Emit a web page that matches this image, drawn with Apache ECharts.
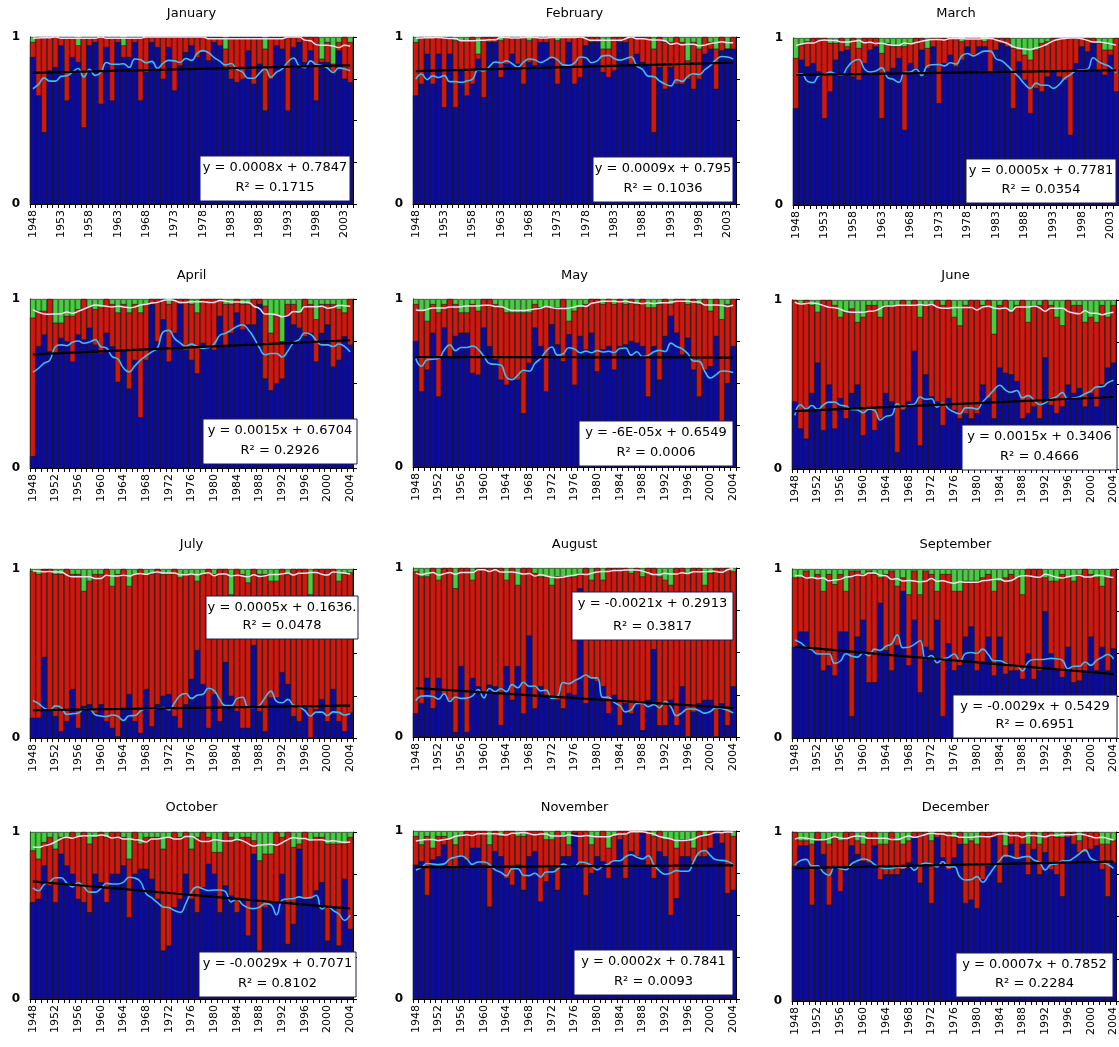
<!DOCTYPE html>
<html>
<head>
<meta charset="utf-8">
<script src="https://cdn.jsdelivr.net/npm/echarts@6/dist/echarts.min.js"></script>
<style>
  html, body { margin: 0; padding: 0; background: #fff; }
  #chart { width: 1119px; height: 1047px; }
</style>
</head>
<body>
<div id="chart"></div>
<script>
// years 1948..2004
var years = [];
for (var yr = 1948; yr <= 2004; yr++) years.push(String(yr));

var months = ['January', 'February', 'March', 'April', 'May', 'June',
  'July', 'August', 'September', 'October', 'November', 'December'];

// blue = bottom share, top = blue + red (green fills up to 1)
var janBlue = [.88,.65,.43,.80,.82,.95,.62,.88,.85,.46, .95,.97,.60,.94,.62,.97,.88,.88,.97,.62, .79,.97,.94,.75,.94,.68,.83,.91,.95,.88, .91,.86,.97,.95,.82,.75,.73,.75,.92,.72, .84,.56,.75,.95,.93,.56,.94,.97,.85,.92, .62,.85,.85,.79,.92,.75,.73];
var janTop  = [.97,1,1,1,1,1,1,1,.95,1, 1,1,1,1,1,1,.95,1,1,1, 1,1,1,1,1,1,1,1,1,1, 1,1,1,1,.93,1,1,1,1,1, 1,.93,1,1,1,1,1,1,1,1, 1,.87,.97,.84,.97,1,.97];

var febBlue = [.65,.72,.90,.72,.90,.58,.90,.58,.80,.65, .72,.87,.64,.97,.97,.76,.84,.90,.84,.72, .85,.83,.97,.97,.87,.72,.82,.97,.72,.76, .95,.97,.97,.79,.76,.80,.97,.97,.84,.90, .85,.83,.43,.82,.69,.82,.72,.72,.75,.69, .75,.90,.93,.69,.92,.93,.93];
var febTop  = [.97,1,1,1,1,1,1,.98,.98,.98, 1,.90,1,1,1,.98,1,1,1,1, .98,1,1,1,1,.98,1,1,1,1, 1,1,1,.93,.93,1,1,1,1,1, 1,1,.93,1,.97,.97,1,.97,.86,.97, .93,1,.97,.93,1,.93,1];

var marBlue = [.58,.87,.83,.85,.80,.52,.68,.87,.92,.93, .77,.75,.85,.93,.95,.52,.80,.82,.88,.45, .85,.82,.93,.82,.95,.61,.85,.90,.83,.87, .95,.90,.95,.95,.80,.93,.97,.95,.58,.86, .75,.55,.70,.68,.77,.80,.77,.75,.42,.85, .95,.92,.97,.80,.78,.90,.68];
var marTop  = [.88,.96,.98,1,1,1,.97,.97,1,.95, 1,.94,1,1,1,.91,.97,.95,.95,.95, .97,1,1,.94,1,1,1,1,1,.98, 1,1,1,.98,1,1,1,1,.94,.93, .90,.87,.93,.97,.98,1,1,1,1,1, 1,1,1,.97,.93,.93,1];

var aprBlue = [.07,.72,.79,.69,.68,.77,.75,.63,.79,.76, .83,.73,.68,.80,.72,.51,.70,.47,.64,.30, .64,.97,.75,.88,.63,.80,.97,.70,.64,.56, .74,.72,.70,.90,.72,.80,.92,.82,.85,.85, .97,.53,.46,.50,.53,.90,.85,.83,.78,.80, .63,.80,.85,.60,.64,.78,.73];
var aprTop  = [.89,.93,.93,1,.86,.86,.90,.90,.94,1, .95,.94,.95,1,.97,.92,.97,.92,.97,.92, .97,1,1,1,.97,1,1,1,.97,.92, 1,1,1,1,.97,.97,1,.97,.97,1, 1,.96,.80,.90,.75,.97,.97,.92,1,.97, .88,.97,.97,.97,.94,.92,1];

var mayBlue = [.75,.45,.58,.80,.42,.83,.66,.78,.80,.80, .56,.55,.83,.72,.64,.52,.49,.53,.52,.32, .62,.83,.72,.45,.85,.73,.63,.79,.49,.78, .70,.80,.57,.70,.72,.58,.72,.73,.75,.74, .72,.42,.72,.52,.78,.90,.80,.67,.77,.58, .42,.58,.60,.78,.25,.50,.72];
var mayTop  = [.97,.93,.87,.97,.92,.97,1,.97,.92,.92, .97,.93,1,1,.97,.95,.92,.92,.92,.92, .92,.97,.95,.95,.95,.95,1,.87,.93,.95, .97,1,1,.97,1,.97,1,.97,1,.97, 1,.95,.95,.97,1,.97,1,1,.97,1, .97,1,.93,1,.88,.97,1];

var junBlue = [.40,.24,.18,.45,.63,.23,.50,.24,.42,.30, .45,.50,.20,.35,.23,.30,.45,.40,.10,.35, .40,.70,.14,.56,.43,.40,.26,.42,.35,.30, .33,.30,.33,.50,.42,.30,.60,.57,.56,.52, .30,.33,.37,.30,.66,.38,.33,.37,.50,.45, .48,.37,.45,.37,.50,.60,.63];
var junTop  = [1,.98,1,.97,.93,1,1,.97,.90,.93, .95,.87,.90,.97,.97,.90,.97,.97,.97,1, .97,1,.90,.97,.97,1,.97,1,.90,.85, .97,1,1,.97,1,.80,.97,1,.93,.97, 1,.87,.97,.97,1,.97,.90,.85,1,.97, .97,.87,.90,.87,.97,.90,.97];

var julBlue = [.12,.12,.48,.17,.13,.04,.10,.29,.06,.19, .20,.15,.20,.10,.06,.01,.17,.26,.10,.03, .29,.07,.20,.25,.26,.13,.06,.20,.35,.52, .32,.06,.26,.10,.45,.25,.16,.06,.06,.55, .16,.04,.24,.24,.39,.32,.13,.10,.18,0, .17,.23,.10,.29,.10,.04,.15];
var julTop  = [.99,.97,1,1,.97,.97,1,.97,.97,.87, .93,.97,.97,1,.90,.97,1,.90,.97,1, .97,.97,1,.97,.97,1,.95,.97,.97,.93, .97,1,.97,1,1,.85,1,.97,.92,1, .97,.97,.93,.93,1,.97,1,1,1,.85, 1,1,1,1,.93,.97,.98];

var augBlue = [.14,.20,.35,.17,.35,.25,.22,.03,.42,.03, .35,.30,.26,.31,.30,.07,.42,.22,.42,.14, .60,.17,.30,.25,.23,.22,.17,.26,.25,.88, .20,.35,.33,.30,.14,.25,.07,.20,.14,.20, .04,.22,.52,.07,.07,.22,.07,.30,0,.15, .20,.22,.22,0,.20,.07,.30];
var augTop  = [.98,.95,.95,1,.93,1,1,.88,1,1, .93,1,1,1,1,1,.93,1,.90,1, 1,.97,.95,.95,.90,.95,.95,.95,.95,.97, 1,.93,1,.93,1,1,1,1,.97,1, .95,1,1,.95,.93,.90,1,1,.97,1, 1,.90,.97,1,1,1,.98];

var sepBlue = [.54,.63,.63,.52,.50,.40,.43,.37,.63,.63, .13,.60,.70,.33,.33,.80,.52,.40,.55,.87, .43,.70,.27,.54,.52,.70,.13,.56,.40,.43, .60,.66,.40,.45,.60,.37,.60,.38,.40,.40, .35,.50,.35,.40,.75,.50,.40,.36,.54,.33, .34,.40,.60,.40,.54,.40,.53];
var sepTop  = [.95,.95,.99,.95,.97,.87,.97,.91,.97,.87, .99,.99,.97,.99,.97,.95,.97,.99,.90,.95, .85,.99,.85,.99,.97,.87,.97,.97,.87,.87, .93,.93,.93,.95,.97,.87,.93,.95,.97,.95, .85,1,1,1,.95,.93,.93,.97,.95,.93, .97,1,.97,.95,.90,.95,1];

var octBlue = [.58,.60,.80,.68,.58,.87,.80,.75,.60,.58, .52,.75,.70,.58,.75,.75,.80,.49,.75,.78, .78,.72,.60,.29,.32,.55,.60,.75,.60,.52, .67,.81,.75,.52,.68,.62,.52,.60,.38,.87, .29,.55,.58,.58,.75,.33,.45,.90,.60,.60, .65,.70,.35,.55,.32,.72,.42];
var octTop  = [.89,.84,.94,.97,.90,.97,.97,1,.97,1, .93,.97,1,.97,1,1,.97,.84,1,.93, .97,.97,.97,.90,.97,1,.97,1,.90,.97, 1,.97,.88,.88,1,.97,.95,.97,.97,.95, .83,.87,.87,1,.97,1,.91,.93,1,.95, .97,.97,.93,.93,.93,.93,.97];

var novBlue = [.80,.82,.62,.83,.85,.92,.78,.78,.85,.83, .90,.90,.80,.55,.88,.85,.72,.68,.80,.65, .85,.88,.58,.70,.78,.65,.85,.85,.99,.80, .62,.75,.85,.82,.72,.82,.95,.72,.88,.85, .99,.80,.72,.88,.85,.50,.60,.85,.85,.82, .85,.85,.90,.99,.93,.63,.65];
var novTop  = [.97,.92,.97,.90,.97,.97,.95,.92,.97,1, 1,1,1,.92,1,.97,1,1,.97,.97, 1,1,1,.95,.95,1,.97,.92,1,1, 1,.92,.97,1,.90,.97,1,1,1,1, 1,1,.97,1,.95,.95,.90,.95,.95,.90, 1,.97,1,1,1,1,.97];

var decBlue = [.80,.92,.92,.57,.95,.87,.57,.80,.65,.80, .92,.87,.83,.82,.92,.72,.75,.75,.75,.78, .82,.97,.70,.82,.58,.97,.85,.78,.85,.93, .58,.60,.55,.72,.80,.97,.70,.85,.93,.85, .93,.75,.90,.75,.88,.78,.75,.62,.97,.93, .88,.88,.90,.92,.78,.62,.82];
var decTop  = [1,.95,.95,.93,1,.95,.93,.97,.95,1, 1,.95,.93,1,1,.93,.93,1,.95,.93, .95,1,1,1,.95,1,1,1,.97,1, .93,.95,.93,1,1,1,1,.92,1,1, 1,.93,1,.93,1,1,.97,.97,1,1, .95,1,1,1,.93,.93,.95];

// linear trend y = slope * x + intercept, x = 1..57
var trendSlope     = [0.0008, 0.0009, 0.0005, 0.0015, -0.00006, 0.0015, 0.0005, -0.0021, -0.0029, -0.0029, 0.0002, 0.0007];
var trendIntercept = [0.7847, 0.795, 0.7781, 0.6704, 0.6549, 0.3406, 0.1636, 0.2913, 0.5429, 0.7071, 0.7841, 0.7852];
var eqText = ['y = 0.0008x + 0.7847', 'y = 0.0009x + 0.795', 'y = 0.0005x + 0.7781',
  'y = 0.0015x + 0.6704', 'y = -6E-05x + 0.6549', 'y = 0.0015x + 0.3406',
  'y = 0.0005x + 0.1636.', 'y = -0.0021x + 0.2913', 'y = -0.0029x + 0.5429',
  'y = -0.0029x + 0.7071', 'y = 0.0002x + 0.7841', 'y = 0.0007x + 0.7852'];
var r2Text = ['0.1715', '0.1036', '0.0354', '0.2926', '0.0006', '0.4666',
  '0.0478', '0.3817', '0.6951', '0.8102', '0.0093', '0.2284'];

var blues  = [janBlue, febBlue, marBlue, aprBlue, mayBlue, junBlue, julBlue, augBlue, sepBlue, octBlue, novBlue, decBlue];
var uppers = [janTop, febTop, marTop, aprTop, mayTop, junTop, julTop, augTop, sepTop, octTop, novTop, decTop];

// layout of the 12 plots (left, top, width, height) and the equation boxes
var grids = [
  [30, 37, 323, 167], [413, 37, 323, 167], [793, 38, 326, 167],
  [30, 299, 323, 169], [413, 299, 323, 168], [792, 300, 327, 169],
  [30, 569, 323, 169], [413, 568, 323, 169], [792, 569, 327, 169],
  [30, 832, 323, 167], [413, 831, 323, 168], [792, 832, 327, 169]
];
var boxes = [
  [200, 156, 150, 45], [593, 157, 140, 45], [966, 159, 150, 44],
  [203, 419, 154, 45], [579, 421, 154, 45], [962, 425, 155, 45],
  [206, 596, 152, 43], [572, 592, 161, 48], [953, 695, 164, 43],
  [199, 952, 157, 45], [574, 950, 159, 45], [956, 953, 157, 44]
];
var titleY = [15, 15, 15, 277, 277, 277, 546, 546, 546, 809, 809, 809];

// centred running mean for the smoothed curves
function smooth(arr, half) {
  var out = [];
  for (var i = 0; i < arr.length; i++) {
    var s = 0, n = 0;
    for (var k = i - half; k <= i + half; k++) {
      if (k >= 0 && k < arr.length) { s += arr[k]; n++; }
    }
    out.push(+(s / n).toFixed(4));
  }
  return out;
}

var FONT = 'DejaVu Sans';
var option = {
  animation: false,
  backgroundColor: '#fff',
  grid: [], xAxis: [], yAxis: [], series: [], graphic: []
};

for (var p = 0; p < 12; p++) {
  var g = grids[p];
  var blue = blues[p], upper = uppers[p];
  var full = [], trend = [];
  for (var i = 0; i < years.length; i++) {
    full.push(1);   // shares add up to 1, green shows above the red
    trend.push(+(trendSlope[p] * (i + 1) + trendIntercept[p]).toFixed(4));
  }

  option.grid.push({ left: g[0], top: g[1], width: g[2], height: g[3], containLabel: false });
  option.xAxis.push({
    type: 'category', gridIndex: p, data: years,
    axisLine: { lineStyle: { color: '#000', width: 1 } },
    axisTick: { show: true, interval: 0, length: 4, lineStyle: { color: '#000' } },
    axisLabel: { interval: p < 3 ? 4 : 3, rotate: 90, fontSize: 11, color: '#000', fontFamily: FONT, margin: 6 },
    splitLine: { show: false }
  });
  option.yAxis.push({
    type: 'value', gridIndex: p, min: 0, max: 1, interval: 1,
    axisLine: { show: true, lineStyle: { color: '#000' } },
    axisTick: { show: false },
    axisLabel: { fontSize: 12, fontWeight: 'bold', color: '#000', fontFamily: FONT, margin: 10 },
    splitLine: { show: false }
  });
  option.yAxis.push({
    type: 'value', gridIndex: p, min: 0, max: 1, interval: 0.25, position: 'right',
    axisLine: { show: true, lineStyle: { color: '#000' } },
    axisTick: { show: true, length: 4, lineStyle: { color: '#000' } },
    axisLabel: { show: false },
    splitLine: { show: false }
  });

  // three overlapping bars per year: green total, red up to "upper", blue share
  var layers = [[full, '#44cf3c', 1], [upper, '#d4170e', 2], [blue, '#0a0aa5', 3]];
  layers.forEach(function (L) {
    option.series.push({
      type: 'bar', xAxisIndex: p, yAxisIndex: 2 * p, data: L[0],
      barGap: '-100%', barCategoryGap: '0%', z: L[2],
      itemStyle: { color: L[1], borderColor: '#151515', borderWidth: 0.6 }
    });
  });
  option.series.push({
    type: 'line', xAxisIndex: p, yAxisIndex: 2 * p, data: smooth(blue, 3),
    smooth: true, symbol: 'none', lineStyle: { color: '#42b9f0', width: 1.6 }, z: 6
  });
  option.series.push({
    type: 'line', xAxisIndex: p, yAxisIndex: 2 * p, data: smooth(upper, 3),
    smooth: true, symbol: 'none', lineStyle: { color: '#f2dcef', width: 1.5 }, z: 6
  });
  option.series.push({
    type: 'line', xAxisIndex: p, yAxisIndex: 2 * p, data: trend,
    symbol: 'none', lineStyle: { color: '#000', width: 2.2 }, z: 7
  });

  // title
  option.graphic.push({
    type: 'text', x: g[0] + g[2] / 2, y: titleY[p] - 8, z: 100,
    style: { text: months[p], font: '13px ' + FONT, fill: '#000', textAlign: 'center' }
  });
  // equation box
  var b = boxes[p];
  option.graphic.push({
    type: 'rect', z: 100, shape: { x: b[0], y: b[1], width: b[2], height: b[3] },
    style: { fill: '#fff', stroke: '#1a1a5a', lineWidth: 1 }
  });
  option.graphic.push({
    type: 'text', z: 101, x: b[0] + b[2] / 2, y: b[1] + 5,
    style: { text: eqText[p], font: '13px ' + FONT, fill: '#000', textAlign: 'center' }
  });
  option.graphic.push({
    type: 'text', z: 101, x: b[0] + b[2] / 2, y: b[1] + b[3] - 20,
    style: { text: 'R\u00b2 = ' + r2Text[p], font: '13px ' + FONT, fill: '#000', textAlign: 'center' }
  });
}

var chart = echarts.init(document.getElementById('chart'));
chart.setOption(option);
</script>
</body>
</html>
